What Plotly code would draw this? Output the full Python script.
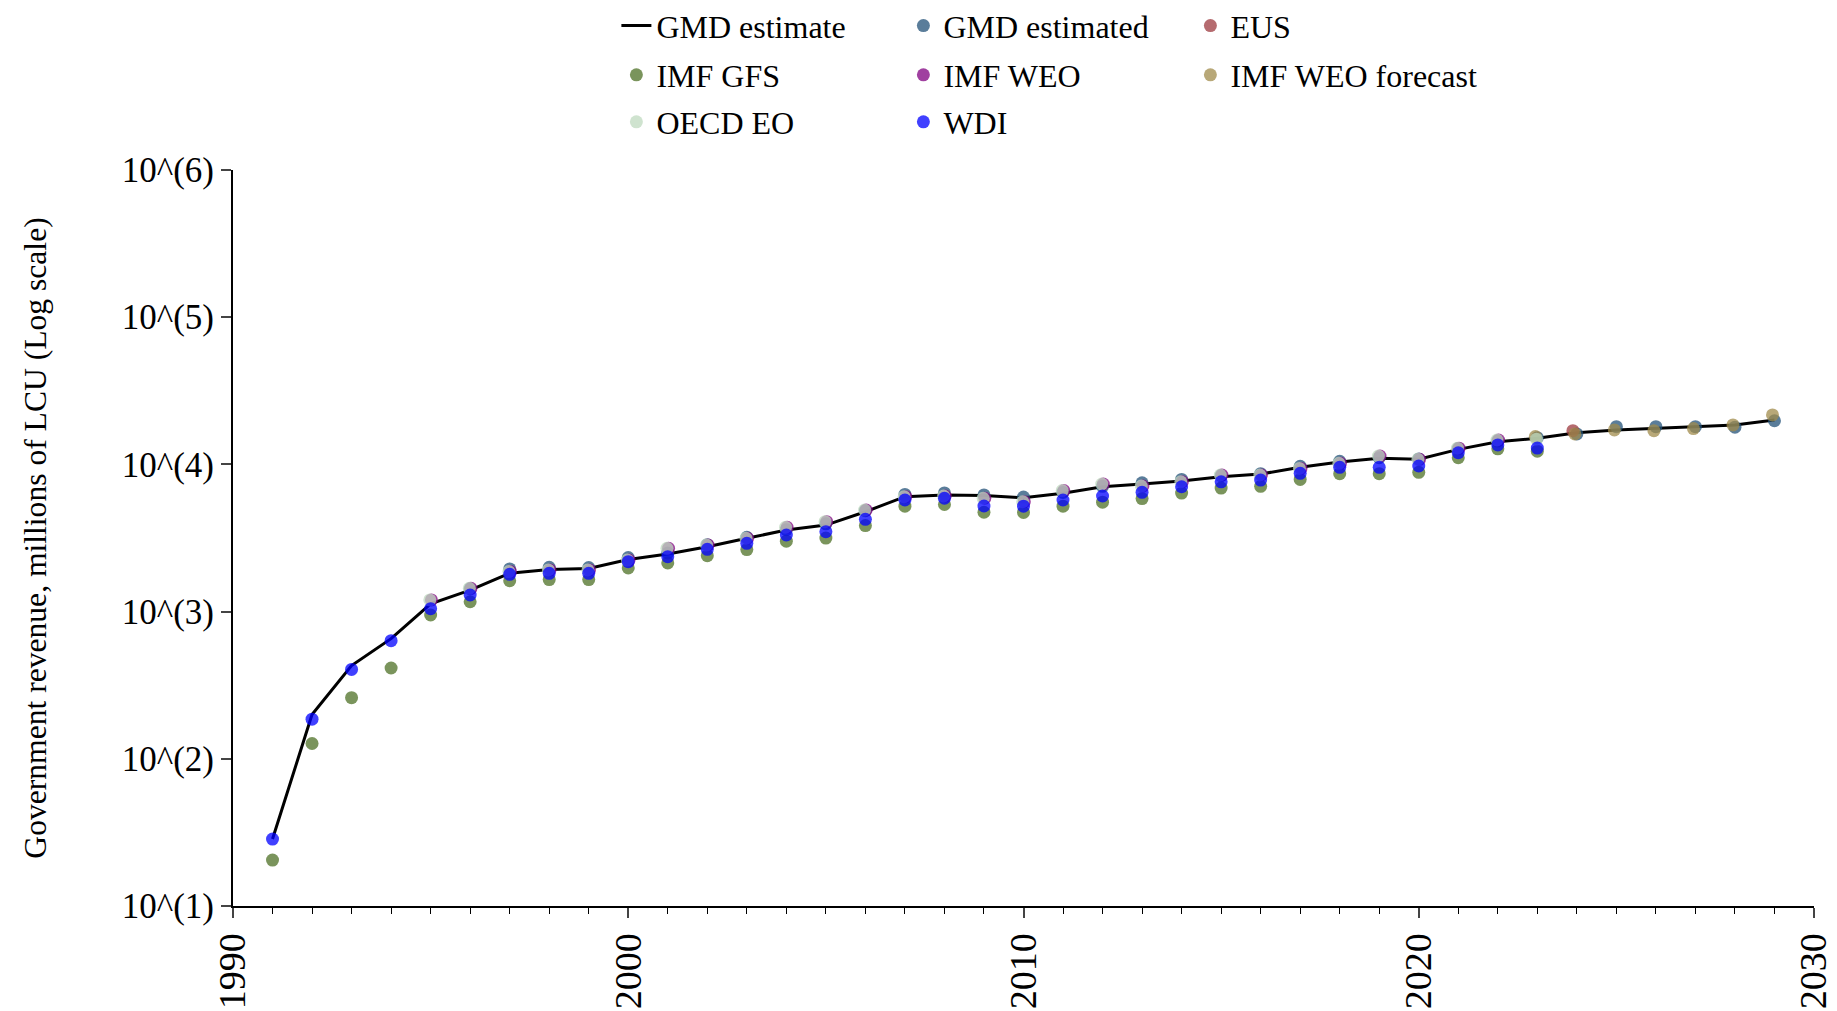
import plotly.graph_objects as go

# GMD estimate line, 1991-2029
line_years = list(range(1991, 2030))
gmd_estimate = [28.5, 200, 430, 655, 1130, 1400, 1820, 1935, 1965, 2260,
                2460, 2760, 3150, 3580, 3870, 4770, 6040, 6200, 6150, 5940,
                6370, 7050, 7360, 7700, 8240, 8600, 9550, 10400, 11000, 10830,
                12650, 14270, 15040, 16400, 17140, 17590, 17860, 18530, 20030]

est_years = list(range(1996, 2030))
gmd_estimated = [1430, 1950, 2000, 1990, 2330, 2500, 2850, 3200, 3600, 3950,
                 4850, 6250, 6400, 6200, 6000, 6450, 7100, 7500, 7900, 8400,
                 8650, 9700, 10500, 11100, 10900, 12800, 14400, 15200, 16100, 18030,
                 18030, 18030, 17900, 19800]

eus_years = [2024]
eus = [16950]

gfs_years = list(range(1991, 2024))
imf_gfs = [20.5, 127, 260, 414, 948, 1167, 1620, 1650, 1650, 1980,
           2140, 2400, 2640, 3010, 3160, 3840, 5200, 5340, 4730, 4720,
           5200, 5540, 5860, 6390, 6900, 7100, 7900, 8650, 8650, 8840,
           11100, 12750, 12300]

weo_years = list(range(1995, 2023))
imf_weo = [1200, 1440, 1870, 1920, 1920, 2240, 2690, 2830, 3150, 3740,
           4080, 4900, 6040, 6100, 5890, 5580, 6640, 7360, 7130, 7620,
           8470, 8470, 9390, 10170, 11400, 10830, 12880, 14650]

fc_years = list(range(2023, 2030))
imf_weo_forecast = [15450, 16100, 17140, 16950, 17500, 18530, 21680]

oecd_years = list(range(1995, 2024))
oecd_eo = [1200, 1440, 1870, 1920, 1920, 2240, 2690, 2830, 3150, 3740,
           4080, 4900, 6040, 6100, 5890, 5580, 6640, 7360, 7130, 7620,
           8470, 8470, 9390, 10170, 11400, 10830, 12880, 14650, 14830]

wdi_years = list(range(1991, 2024))
wdi = [28.5, 186, 405, 635, 1047, 1297, 1792, 1820, 1820, 2183,
       2360, 2650, 2910, 3313, 3490, 4236, 5730, 5890, 5215, 5200,
       5730, 6100, 6460, 7050, 7620, 7830, 8700, 9550, 9550, 9750,
       12000, 13560, 12900]

font = "Liberation Serif"

fig = go.Figure()
fig.add_trace(go.Scatter(x=line_years, y=gmd_estimate, mode="lines", name="GMD estimate",
                         line=dict(color="black", width=3), legend="legend"))

# name, years, values, colour, x nudge, legend row
sources = [
    ("GMD estimated", est_years, gmd_estimated, "#235178", 0.0, "legend"),
    ("EUS", eus_years, eus, "#9c393f", -0.1, "legend"),
    ("IMF GFS", gfs_years, imf_gfs, "#4d7025", 0.0, "legend2"),
    ("IMF WEO", weo_years, imf_weo, "#800080", 0.02, "legend2"),
    ("IMF WEO forecast", fc_years, imf_weo_forecast, "#a08b4b", -0.05, "legend2"),
    ("OECD EO", oecd_years, oecd_eo, "#bfd9bf", -0.02, "legend3"),
    ("WDI", wdi_years, wdi, "#0000ff", 0.0, "legend3"),
]
for name, xs, ys, col, off, leg in sources:
    fig.add_trace(go.Scatter(x=[x + off for x in xs], y=ys, mode="markers", name=name,
                             legend=leg,
                             marker=dict(color=col, size=13, opacity=0.75, line=dict(width=0))))

legend_style = dict(orientation="h", x=0.2425, xanchor="left", yanchor="middle",
                    entrywidth=242, entrywidthmode="pixels", bgcolor="rgba(0,0,0,0)",
                    font=dict(family=font, size=32, color="black"))

fig.update_layout(
    width=1829, height=1003,
    paper_bgcolor="white", plot_bgcolor="white",
    font=dict(family=font, size=34, color="black"),
    margin=dict(l=225, r=23, t=162, b=105, autoexpand=False),
    showlegend=True,
    legend=dict(legend_style, y=1.196),
    legend2=dict(legend_style, y=1.1291),
    legend3=dict(legend_style, y=1.0652),
)
fig.update_xaxes(range=[1990, 2030], tickvals=[1990, 2000, 2010, 2020, 2030],
                 tickangle=-90, ticks="outside", ticklen=10, tickwidth=2,
                 showline=True, linecolor="black", linewidth=2, showgrid=False, zeroline=False,
                 tickfont=dict(family=font, size=38, color="black"),
                 minor=dict(dtick=1, ticks="outside", ticklen=6, tickwidth=1, tickcolor="black"))
fig.update_yaxes(type="log", range=[1, 6], tickvals=[10, 100, 1000, 10000, 100000, 1000000],
                 ticktext=["10^(1)", "10^(2)", "10^(3)", "10^(4)", "10^(5)", "10^(6)"],
                 ticks="outside", ticklen=10, tickwidth=2, showline=True, linecolor="black",
                 linewidth=2, showgrid=False, zeroline=False,
                 tickfont=dict(family=font, size=35, color="black"),
                 title=dict(text="Government revenue, millions of LCU (Log scale)",
                            font=dict(family=font, size=31.6, color="black"), standoff=66))

fig.write_html("out.html")
